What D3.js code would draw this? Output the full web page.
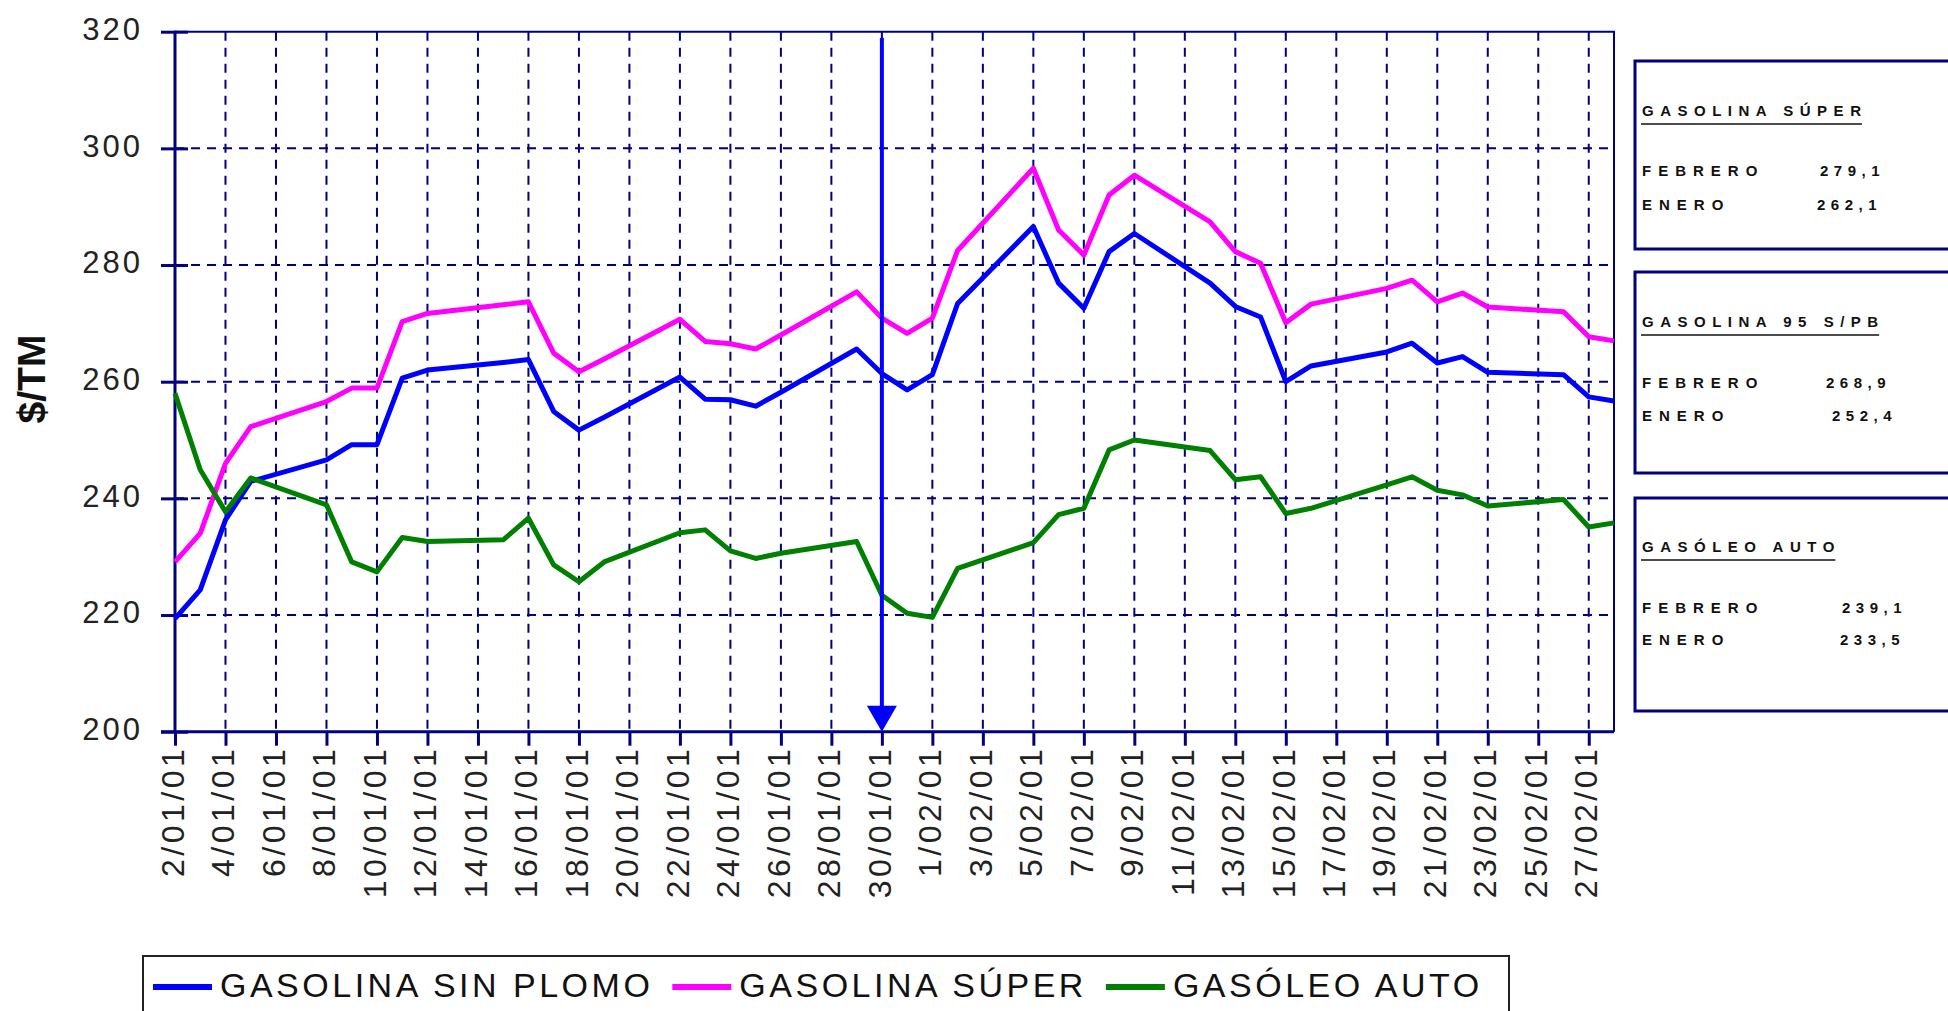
<!DOCTYPE html>
<html>
<head>
<meta charset="utf-8">
<script src="https://cdn.jsdelivr.net/npm/d3@7"></script>
<style>
  body { margin: 0; background: #fff; }
  svg { display: block; font-family: "Liberation Sans", Arial, sans-serif; }
</style>
</head>
<body>
<div id="chart"></div>
<script>
// dias habiles con cotizacion
const fechas = [
  "2/01/01", "3/01/01", "4/01/01", "5/01/01", "8/01/01", "9/01/01", "10/01/01", "11/01/01", "12/01/01",
  "15/01/01", "16/01/01", "17/01/01", "18/01/01", "19/01/01", "22/01/01", "23/01/01", "24/01/01", "25/01/01",
  "26/01/01", "29/01/01", "30/01/01", "31/01/01", "1/02/01", "2/02/01", "5/02/01", "6/02/01", "7/02/01",
  "8/02/01", "9/02/01", "12/02/01", "13/02/01", "14/02/01", "15/02/01", "16/02/01", "19/02/01", "20/02/01",
  "21/02/01", "22/02/01", "23/02/01", "26/02/01", "27/02/01", "28/02/01"
];
const sinPlomo = [
  219.4, 224.3, 236.3, 242.9, 246.6, 249.2, 249.2, 260.6, 262.0,
  263.3, 263.8, 254.9, 251.7, 253.9, 260.8, 257.0, 256.9, 255.8,
  258.2, 265.6, 261.4, 258.6, 261.2, 273.4, 286.6, 276.9, 272.6,
  282.3, 285.4, 276.9, 272.9, 271.1, 260.0, 262.7, 265.1, 266.6,
  263.2, 264.3, 261.6, 261.2, 257.4, 256.7
];
const gasSuper = [
  229.1, 234.0, 246.0, 252.3, 256.6, 258.9, 258.9, 270.3, 271.7,
  273.2, 273.7, 264.9, 261.7, 263.9, 270.7, 266.9, 266.5, 265.6,
  268.0, 275.4, 270.9, 268.3, 270.9, 282.5, 296.6, 286.0, 281.7,
  292.0, 295.4, 287.4, 282.3, 280.3, 270.1, 273.3, 276.0, 277.4,
  273.7, 275.2, 272.8, 272.0, 267.7, 267.0
];
const gasoleo = [
  258.0, 244.9, 237.7, 243.5, 238.9, 229.1, 227.4, 233.3, 232.6,
  232.9, 236.6, 228.6, 225.7, 229.1, 234.1, 234.6, 231.0, 229.7,
  230.6, 232.6, 223.4, 220.3, 219.6, 228.0, 232.4, 237.2, 238.3,
  248.3, 250.0, 248.2, 243.2, 243.7, 237.4, 238.3, 242.3, 243.7,
  241.4, 240.6, 238.7, 239.8, 235.1, 235.8
];

const etiquetasX = [
  "2/01/01", "4/01/01", "6/01/01", "8/01/01", "10/01/01", "12/01/01", "14/01/01", "16/01/01",
  "18/01/01", "20/01/01", "22/01/01", "24/01/01", "26/01/01", "28/01/01", "30/01/01", "1/02/01",
  "3/02/01", "5/02/01", "7/02/01", "9/02/01", "11/02/01", "13/02/01", "15/02/01", "17/02/01",
  "19/02/01", "21/02/01", "23/02/01", "25/02/01", "27/02/01"
];
const valoresY = [200, 220, 240, 260, 280, 300, 320];
const rangoFechas = ["2/01/01", "28/02/01"];
const fechaFlecha = "30/01/01";

const nombresSeries = ["GASOLINA SIN PLOMO", "GASOLINA SÚPER", "GASÓLEO AUTO"];
const coloresSeries = ["#0000ff", "#ff00ff", "#008000"];

const resumenTitulos = ["GASOLINA SÚPER", "GASOLINA 95 S/PB", "GASÓLEO AUTO"];
const resumenFebrero = ["279,1", "268,9", "239,1"];
const resumenEnero = ["262,1", "252,4", "233,5"];

(function precios_carburantes() {
  const width = 1948, height = 1011;
  const navy = "#000080";
  const left = 175, right = 1614, top = 31.7, bottom = 731.7;

  const svg = d3.select("#chart")
    .append("svg")
    .attr("width", width)
    .attr("height", height)
    .attr("viewBox", [0, 0, width, height]);

  const parse = d3.timeParse("%d/%m/%y");
  const dias = fechas.map(parse);
  const ticksX = etiquetasX.map(parse);

  const x = d3.scaleTime()
    .domain(rangoFechas.map(parse))
    .range([left, right]);

  const y = d3.scaleLinear()
    .domain([d3.min(valoresY), d3.max(valoresY)])
    .range([bottom, top]);

  // rejilla
  const grid = svg.append("g")
    .attr("stroke", navy)
    .attr("stroke-width", 2)
    .attr("stroke-dasharray", "9,7");

  grid.selectAll(".h")
    .data(valoresY.slice(1, -1))
    .join("line")
    .attr("x1", left).attr("x2", right)
    .attr("y1", d => y(d)).attr("y2", d => y(d));

  grid.selectAll(".v")
    .data(ticksX.slice(1))
    .join("line")
    .attr("x1", d => x(d)).attr("x2", d => x(d))
    .attr("y1", top).attr("y2", bottom);

  // marco
  svg.append("path")
    .attr("d", `M${left},${top}H${right}V${bottom}`)
    .attr("fill", "none")
    .attr("stroke", navy)
    .attr("stroke-width", 2);

  // eje Y
  const yAxis = svg.append("g")
    .attr("transform", `translate(${left},0)`)
    .call(d3.axisLeft(y).tickValues(valoresY).tickSizeOuter(0));
  yAxis.select(".domain").remove();
  yAxis.selectAll(".tick line")
    .attr("x1", 13).attr("x2", -14)
    .attr("stroke", navy).attr("stroke-width", 3);
  yAxis.selectAll(".tick text")
    .attr("x", -32)
    .attr("dy", "0.25em")
    .attr("fill", "#222")
    .style("font-size", "31px")
    .style("letter-spacing", "3px")
    .style("font-family", "'Liberation Sans', Arial, sans-serif");
  yAxis.append("line")
    .attr("y1", top - 1).attr("y2", bottom)
    .attr("stroke", navy).attr("stroke-width", 3);

  // eje X
  const xAxis = svg.append("g")
    .attr("transform", `translate(0,${bottom})`)
    .call(d3.axisBottom(x).tickValues(ticksX).tickFormat((d, i) => etiquetasX[i]).tickSizeOuter(0).tickSizeInner(14));
  xAxis.select(".domain").remove();
  xAxis.selectAll(".tick line")
    .attr("stroke", navy).attr("stroke-width", 3);
  xAxis.selectAll(".tick text")
    .attr("transform", "rotate(-90)")
    .attr("text-anchor", "end")
    .attr("x", -14)
    .attr("y", -3)
    .attr("dy", "0.35em")
    .attr("fill", "#222")
    .style("font-size", "32px")
    .style("letter-spacing", "3.5px")
    .style("font-family", "'Liberation Sans', Arial, sans-serif");
  xAxis.append("line")
    .attr("x1", left - 14).attr("x2", right)
    .attr("stroke", navy).attr("stroke-width", 3);

  // titulo eje Y
  svg.append("text")
    .attr("transform", `translate(31,379) rotate(-90)`)
    .attr("text-anchor", "middle")
    .attr("dominant-baseline", "central")
    .attr("font-size", 39)
    .attr("font-weight", "bold")
    .attr("fill", "#111")
    .text("$/TM");

  // series
  const line = d3.line()
    .x((d, i) => x(dias[i]))
    .y(d => y(d));

  const datos = [sinPlomo, gasSuper, gasoleo];
  svg.append("g")
    .selectAll("path")
    .data(datos)
    .join("path")
    .attr("fill", "none")
    .attr("stroke", (d, i) => coloresSeries[i])
    .attr("stroke-width", 5)
    .attr("stroke-linejoin", "round")
    .attr("d", line);

  // flecha cambio de mes
  const xf = x(parse(fechaFlecha));
  svg.append("line")
    .attr("x1", xf).attr("x2", xf)
    .attr("y1", 38).attr("y2", bottom - 20)
    .attr("stroke", "#0000ff")
    .attr("stroke-width", 4);
  svg.append("path")
    .attr("d", `M${xf - 15},${bottom - 26}L${xf + 15},${bottom - 26}L${xf},${bottom}Z`)
    .attr("fill", "#0000ff");

  // leyenda
  svg.append("rect")
    .attr("x", 143).attr("y", 956)
    .attr("width", 1366).attr("height", 80)
    .attr("fill", "none")
    .attr("stroke", "#222")
    .attr("stroke-width", 2);

  let lx = 153;
  nombresSeries.forEach((name, i) => {
    svg.append("line")
      .attr("x1", lx).attr("x2", lx + 59)
      .attr("y1", 987).attr("y2", 987)
      .attr("stroke", coloresSeries[i])
      .attr("stroke-width", 6);
    const t = svg.append("text")
      .attr("x", lx + 67).attr("y", 997)
      .attr("font-size", 34)
      .attr("letter-spacing", "3.5px")
      .attr("fill", "#111")
      .text(name);
    lx = lx + 67 + t.node().getComputedTextLength() + 19;
  });

  // recuadros resumen
  const cajas = [
    { top: 61, h: 188, title: 116, feb: 176, ene: 210, xf: 1820, xe: 1817 },
    { top: 272, h: 201, title: 327, feb: 388, ene: 421, xf: 1826, xe: 1832 },
    { top: 498, h: 213, title: 552, feb: 613, ene: 645, xf: 1842, xe: 1840 }
  ];

  cajas.forEach((c, i) => {
    const g = svg.append("g").attr("fill", "#111").attr("font-size", 15).attr("font-weight", "bold");
    g.append("rect")
      .attr("x", 1635).attr("y", c.top)
      .attr("width", 400).attr("height", c.h)
      .attr("fill", "none")
      .attr("stroke", navy)
      .attr("stroke-width", 3);
    const t = g.append("text")
      .attr("x", 1642).attr("y", c.title)
      .attr("letter-spacing", "6.5px")
      .text(resumenTitulos[i]);
    const w = t.node().getComputedTextLength() - 6.5;
    g.append("line")
      .attr("x1", 1641).attr("x2", 1643 + w)
      .attr("y1", c.title + 8).attr("y2", c.title + 8)
      .attr("stroke", "#111").attr("stroke-width", 1.5);
    g.append("text").attr("x", 1642).attr("y", c.feb)
      .attr("letter-spacing", "7px").text("FEBRERO");
    g.append("text").attr("x", 1642).attr("y", c.ene)
      .attr("letter-spacing", "7px").text("ENERO");
    g.append("text").attr("x", c.xf).attr("y", c.feb)
      .attr("letter-spacing", "5.5px").text(resumenFebrero[i]);
    g.append("text").attr("x", c.xe).attr("y", c.ene)
      .attr("letter-spacing", "5.5px").text(resumenEnero[i]);
  });
})();
</script>
</body>
</html>
